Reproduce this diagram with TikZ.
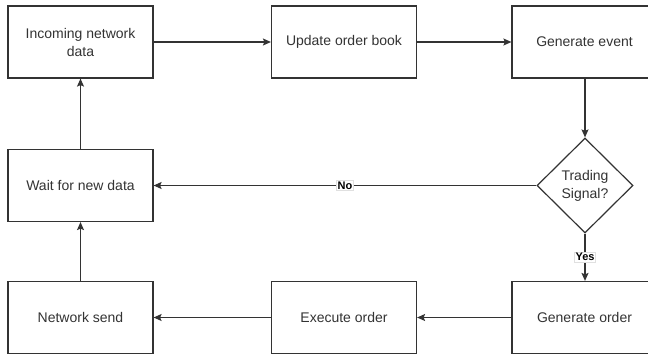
\documentclass[tikz,border=0pt]{standalone}
\usepackage{fontspec}
\setmainfont{Liberation Sans}
\usetikzlibrary{arrows.meta,shapes.geometric}
\definecolor{ink}{HTML}{333333}
\definecolor{lbl}{HTML}{E0E0E0}
\begin{document}
\begin{tikzpicture}[x=1pt,y=-1pt,
  box/.style={draw=ink,line width=1.2pt,fill=white,minimum width=145pt,minimum height=72pt,
    inner sep=0pt,align=center,text=ink,font=\fontsize{14}{18}\selectfont},
  dia/.style={draw=ink,line width=1.2pt,fill=white,diamond,minimum width=96pt,minimum height=95pt,
    inner sep=0pt,align=center,text=ink,font=\fontsize{14}{18}\selectfont},
  conn/.style={draw=ink,line width=1.2pt,-{Stealth[length=8pt,width=7pt,inset=1.5pt]}},
  lab/.style={fill=white,draw=lbl,line width=0.5pt,inner sep=1.2pt,text=black,font=\fontsize{11}{13}\selectfont\bfseries}]
\useasboundingbox (0,0) rectangle (648,356);
\node[box] (in) at (80.5,42) {Incoming network\\data};
\node[box] (upd) at (344,42) {Update order book};
\node[box] (gev) at (584.5,42) {Generate event};
\node[dia] (sig) at (585,185.5) {Trading\\Signal?};
\node[box] (wait) at (80.5,185.5) {Wait for new data};
\node[box] (gor) at (584.5,317.5) {Generate order};
\node[box] (exe) at (344,317.5) {Execute order};
\node[box] (net) at (80.5,317.5) {Network send};
\draw[conn] (in) -- (upd);
\draw[conn] (upd) -- (gev);
\draw[conn] (gev.south -| sig.north) -- (sig.north);
\draw[conn] (sig.west) -- node[lab,pos=0.5] {No} (wait.east);
\draw[conn] (sig.south) -- node[lab,pos=0.5] {Yes} (gor.north -| sig.south);
\draw[conn] (gor) -- (exe);
\draw[conn] (exe) -- (net);
\draw[conn] (net) -- (wait);
\draw[conn] (wait) -- (in);
\end{tikzpicture}
\end{document}
